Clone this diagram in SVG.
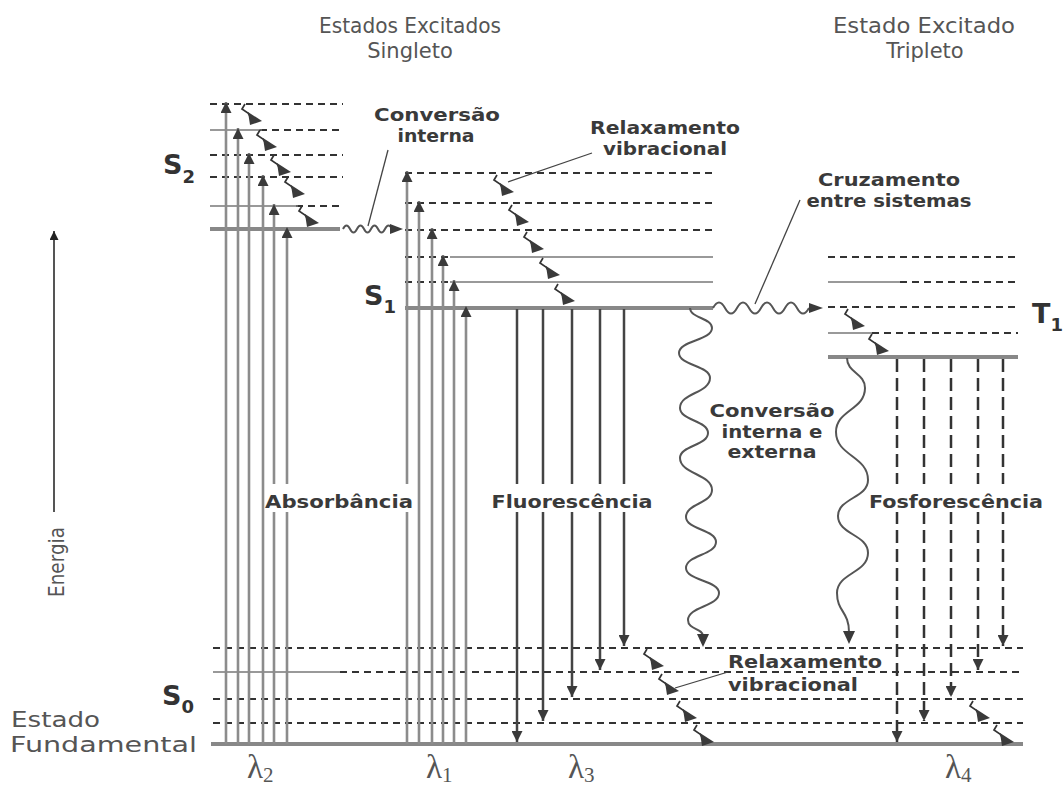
<svg xmlns="http://www.w3.org/2000/svg" width="1063" height="790" viewBox="0 0 1063 790">
<defs>
<style>
.lvd{stroke:#333;stroke-width:1.8;stroke-dasharray:7 5;fill:none}
.lvs{stroke:#777;stroke-width:1.4;fill:none}
.lvt{stroke:#888;stroke-width:4;fill:none}
.abs{stroke:#8c8c8c;stroke-width:2.6;marker-end:url(#ah)}
.em{stroke:#444;stroke-width:2.5;marker-end:url(#ah)}
.ph{stroke:#333;stroke-width:2.5;stroke-dasharray:13 6;marker-end:url(#ah)}
.wv{stroke:#555;stroke-width:2;fill:none}
.ld{stroke:#444;stroke-width:1.3}
.hd{fill:#3a3a3a}
.t{font-family:"DejaVu Sans",sans-serif;fill:#555}
.b{font-family:"DejaVu Sans",sans-serif;font-weight:bold;fill:#3a3a3a;font-size:17px}
.sl{font-family:"DejaVu Sans",sans-serif;font-weight:bold;fill:#333}
.lam{font-family:"Liberation Serif",serif;fill:#555}
.bg{fill:#fff}
</style>
<marker id="ah" viewBox="0 0 10 10" refX="10" refY="5" markerWidth="11" markerHeight="11" markerUnits="userSpaceOnUse" orient="auto"><path d="M0,0 L10,5 L0,10 z" fill="#3a3a3a"/></marker>
<marker id="ahs" viewBox="0 0 10 10" refX="10" refY="5" markerWidth="9" markerHeight="9" markerUnits="userSpaceOnUse" orient="auto"><path d="M0,0 L10,5 L0,10 z" fill="#222"/></marker>
<g id="vr"><path d="M0,0 L-3,5 L3,9 L5,12" fill="none" stroke="#333" stroke-width="1.7"/><polygon points="3,8 17,17 5,21" fill="#3a3a3a"/></g>
</defs>
<rect width="1063" height="790" fill="#fff"/>

<g id="S2">
<line class="lvd" x1="210" y1="104" x2="343" y2="104"/>
<line class="lvd" x1="260" y1="130" x2="343" y2="130"/>
<line class="lvs" x1="210" y1="130" x2="262" y2="130"/>
<line class="lvd" x1="210" y1="155" x2="343" y2="155"/>
<line class="lvd" x1="210" y1="177" x2="343" y2="177"/>
<line class="lvd" x1="296" y1="206" x2="343" y2="206"/>
<line class="lvs" x1="210" y1="206" x2="298" y2="206"/>
<line class="lvt" x1="210" y1="229" x2="340" y2="229"/>
<text class="sl" x="163" y="174" font-size="27">S<tspan font-size="18" dy="9">2</tspan></text>
</g>

<g id="S1">
<line class="lvd" x1="405" y1="173" x2="713" y2="173"/>
<line class="lvd" x1="405" y1="203" x2="713" y2="203"/>
<line class="lvd" x1="405" y1="230" x2="713" y2="230"/>
<line class="lvd" x1="405" y1="257" x2="450" y2="257"/>
<line class="lvs" x1="450" y1="257" x2="713" y2="257"/>
<line class="lvd" x1="405" y1="282" x2="450" y2="282"/>
<line class="lvs" x1="450" y1="282" x2="713" y2="282"/>
<line class="lvt" x1="405" y1="308" x2="713" y2="308"/>
<text class="sl" x="364" y="305" font-size="27">S<tspan font-size="18" dy="8">1</tspan></text>
</g>

<g id="T1">
<line class="lvd" x1="828" y1="257" x2="1018" y2="257"/>
<line class="lvs" x1="828" y1="282" x2="900" y2="282"/>
<line class="lvd" x1="900" y1="282" x2="1018" y2="282"/>
<line class="lvd" x1="828" y1="307" x2="1018" y2="307"/>
<line class="lvs" x1="828" y1="333" x2="872" y2="333"/>
<line class="lvd" x1="872" y1="333" x2="1018" y2="333"/>
<line class="lvt" x1="828" y1="357" x2="1018" y2="357"/>
<text class="sl" x="1032" y="323" font-size="27">T<tspan font-size="18" dy="8">1</tspan></text>
</g>

<g id="S0">
<line class="lvd" x1="213" y1="648" x2="1023" y2="648"/>
<line class="lvs" x1="213" y1="672" x2="340" y2="672"/>
<line class="lvd" x1="340" y1="672" x2="1023" y2="672"/>
<line class="lvd" x1="213" y1="699" x2="1023" y2="699"/>
<line class="lvd" x1="213" y1="723" x2="1023" y2="723"/>
<line class="lvt" x1="211" y1="744" x2="1023" y2="744"/>
<text class="sl" x="162" y="705" font-size="27">S<tspan font-size="18" dy="8">0</tspan></text>
<text class="t" x="11" y="727" font-size="22" textLength="89" lengthAdjust="spacingAndGlyphs">Estado</text>
<text class="t" x="10" y="752" font-size="22" textLength="187" lengthAdjust="spacingAndGlyphs">Fundamental</text>
</g>

<g id="connectors">
<line class="abs" x1="226" y1="744" x2="226" y2="102"/>
<line class="abs" x1="238" y1="744" x2="238" y2="128"/>
<line class="abs" x1="249" y1="744" x2="249" y2="153"/>
<line class="abs" x1="263" y1="744" x2="263" y2="175"/>
<line class="abs" x1="274" y1="744" x2="274" y2="204"/>
<line class="abs" x1="287" y1="744" x2="287" y2="227"/>
<line class="abs" x1="407" y1="744" x2="407" y2="171"/>
<line class="abs" x1="419" y1="744" x2="419" y2="201"/>
<line class="abs" x1="432" y1="744" x2="432" y2="228"/>
<line class="abs" x1="443" y1="744" x2="443" y2="255"/>
<line class="abs" x1="454" y1="744" x2="454" y2="280"/>
<line class="abs" x1="466" y1="744" x2="466" y2="306"/>
<line class="em" x1="517" y1="309" x2="517" y2="742"/>
<line class="em" x1="543" y1="309" x2="543" y2="721"/>
<line class="em" x1="572" y1="309" x2="572" y2="697"/>
<line class="em" x1="600" y1="309" x2="600" y2="670"/>
<line class="em" x1="624" y1="309" x2="624" y2="646"/>
<line class="ph" x1="897" y1="359" x2="897" y2="742"/>
<line class="ph" x1="924" y1="359" x2="924" y2="721"/>
<line class="ph" x1="951" y1="359" x2="951" y2="697"/>
<line class="ph" x1="978" y1="359" x2="978" y2="670"/>
<line class="ph" x1="1003" y1="359" x2="1003" y2="646"/>
<path class="wv" d="M343,229 q3.5,-7 7,0 t7,0 t7,0 t7,0 t7,0 t7,0 t7,0"/>
<polygon class="hd" points="390,224 403,229 390,234"/>
<path class="wv" d="M713,308 q6,-11 12,0 t12,0 t12,0 t12,0 t12,0 t12,0 t12,0 t12,0"/>
<polygon class="hd" points="809,303 823,308 809,313"/>
<path class="wv" d="M690,308 C690,318 712,318 712,328 C712,340.5 679,340.5 679,353 C679,365.5 710,365.5 710,378 C710,393 680,393 680,408 C680,420.5 708,420.5 708,433 C708,445.5 680,445.5 680,458 C680,474 712,474 712,490 C712,503.5 686,503.5 686,517 C686,529.5 716,529.5 716,542 C716,555 686,555 686,568 C686,580.5 719,580.5 719,593 C719,606.5 688,606.5 688,620 C688,630 703,628 703,636"/>
<polygon class="hd" points="697,634 709,634 703,647"/>
<path class="wv" d="M847,358 C847,373 865,373 865,388 C865,410 836,410 836,432 C836,456 868,456 868,480 C868,498 838,498 838,516 C838,534.5 868,534.5 868,553 C868,573 837,573 837,593 C837,611.5 849,611.5 849,632"/>
<polygon class="hd" points="843,631 855,631 849,644"/>
<use href="#vr" x="245" y="104"/>
<use href="#vr" x="260" y="130"/>
<use href="#vr" x="274" y="155"/>
<use href="#vr" x="288" y="177"/>
<use href="#vr" x="302" y="206"/>
<use href="#vr" x="497" y="175"/>
<use href="#vr" x="512" y="205"/>
<use href="#vr" x="527" y="232"/>
<use href="#vr" x="543" y="258"/>
<use href="#vr" x="558" y="284"/>
<use href="#vr" x="848" y="309"/>
<use href="#vr" x="872" y="334"/>
<use href="#vr" x="647" y="649"/>
<use href="#vr" x="662" y="674"/>
<use href="#vr" x="680" y="701"/>
<use href="#vr" x="697" y="725"/>
<use href="#vr" x="973" y="701"/>
<use href="#vr" x="997" y="725"/>
<line class="ld" x1="368" y1="226" x2="388" y2="150"/>
<line class="ld" x1="508" y1="182" x2="592" y2="153"/>
<line class="ld" x1="755" y1="304" x2="800" y2="200"/>
<line class="ld" x1="675" y1="688" x2="728" y2="672"/>
<line x1="54" y1="512" x2="54" y2="231" stroke="#555" stroke-width="2" marker-end="url(#ahs)"/>
</g>

<g id="labels">
<text class="t" x="410" y="33" font-size="21" text-anchor="middle" textLength="182" lengthAdjust="spacingAndGlyphs">Estados Excitados</text>
<text class="t" x="410" y="58" font-size="21" text-anchor="middle">Singleto</text>
<text class="t" x="924" y="33" font-size="21" text-anchor="middle" textLength="182" lengthAdjust="spacingAndGlyphs">Estado Excitado</text>
<text class="t" x="925" y="58" font-size="21" text-anchor="middle">Tripleto</text>
<text class="t" font-size="21" transform="translate(64,562) rotate(-90)" text-anchor="middle" textLength="70" lengthAdjust="spacingAndGlyphs">Energia</text>

<text class="b" x="437" y="121" text-anchor="middle" textLength="126" lengthAdjust="spacingAndGlyphs">Conversão</text>
<text class="b" x="436" y="142" text-anchor="middle" textLength="77" lengthAdjust="spacingAndGlyphs">interna</text>
<text class="b" x="665" y="134" text-anchor="middle" textLength="150" lengthAdjust="spacingAndGlyphs">Relaxamento</text>
<text class="b" x="665" y="155" text-anchor="middle" textLength="124" lengthAdjust="spacingAndGlyphs">vibracional</text>
<text class="b" x="889" y="186" text-anchor="middle" textLength="142" lengthAdjust="spacingAndGlyphs">Cruzamento</text>
<text class="b" x="889" y="207" text-anchor="middle" textLength="165" lengthAdjust="spacingAndGlyphs">entre sistemas</text>
<text class="b" x="772" y="417" text-anchor="middle" textLength="125" lengthAdjust="spacingAndGlyphs">Conversão</text>
<text class="b" x="772" y="438" text-anchor="middle" textLength="101" lengthAdjust="spacingAndGlyphs">interna e</text>
<text class="b" x="772" y="458" text-anchor="middle" textLength="89" lengthAdjust="spacingAndGlyphs">externa</text>

<rect class="bg" x="267" y="484" width="146" height="28"/>
<text class="b" x="339" y="508" text-anchor="middle" textLength="148" lengthAdjust="spacingAndGlyphs">Absorbância</text>
<rect class="bg" x="494" y="484" width="158" height="28"/>
<text class="b" x="572" y="508" text-anchor="middle" textLength="161" lengthAdjust="spacingAndGlyphs">Fluorescência</text>
<rect class="bg" x="870" y="484" width="172" height="28"/>
<text class="b" x="956" y="508" text-anchor="middle" textLength="174" lengthAdjust="spacingAndGlyphs">Fosforescência</text>

<text class="b" x="728" y="668" textLength="154" lengthAdjust="spacingAndGlyphs">Relaxamento</text>
<text class="b" x="728" y="691" textLength="130" lengthAdjust="spacingAndGlyphs">vibracional</text>

<text class="lam" x="247" y="778" font-size="33">λ<tspan font-size="21" dy="4">2</tspan></text>
<text class="lam" x="426" y="778" font-size="33">λ<tspan font-size="21" dy="4">1</tspan></text>
<text class="lam" x="568" y="778" font-size="33">λ<tspan font-size="21" dy="4">3</tspan></text>
<text class="lam" x="945" y="778" font-size="33">λ<tspan font-size="21" dy="4">4</tspan></text>
</g>
</svg>
